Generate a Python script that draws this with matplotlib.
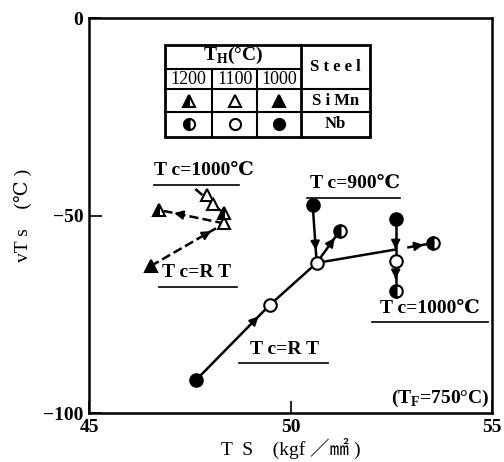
import matplotlib.pyplot as plt
from matplotlib.patches import Rectangle

plt.rcParams['font.family'] = ['Liberation Serif', 'DejaVu Serif', 'Noto Sans CJK JP']
plt.rcParams['font.weight'] = 'bold'
plt.rcParams['mathtext.fontset'] = 'custom'
plt.rcParams['mathtext.rm'] = 'Liberation Serif:bold'
plt.rcParams['mathtext.bf'] = 'Liberation Serif:bold'

# Nb steel (circles): TS, vTs, heating temperature TH
nb_x = [47.66, 49.48, 50.65, 50.55, 51.22, 52.61, 52.61, 52.61, 53.53]
nb_y = [-91.6, -72.7, -62.0, -47.3, -53.9, -50.9, -61.5, -69.1, -57.0]
nb_th = [1000, 1100, 1100, 1000, 1200, 1000, 1100, 1200, 1200]

# SiMn steel (triangles)
simn_x = [46.53, 48.36, 46.74, 47.94, 48.08, 48.36]
simn_y = [-62.8, -52.0, -48.6, -44.8, -47.1, -49.4]
simn_th = [1000, 1100, 1200, 1100, 1100, 1200]

# connections: (from, to, linestyle, arrow position)
nb_links = [(0, 1, '-', 0.85), (1, 2, '-', None), (3, 2, '-', 0.78),
            (2, 4, '-', 0.78), (5, 6, '-', 0.72), (6, 7, '-', 0.6)]
simn_links = [(0, 1, '--', 0.82), (1, 2, '--', 0.77)]

th_cols = ['1200', '1100', '1000']


def marker_style(th, m, ms=9):
    st = dict(marker=m, ms=ms, mec='k', mew=1.5, ls='none', zorder=5)
    if th == 1000:
        st.update(mfc='k')
    elif th == 1100:
        st.update(mfc='white')
    else:
        st.update(mfc='k', fillstyle='left', markerfacecoloralt='white')
    return st


def arrow_at(ax, p0, p1, t, ms=13):
    dx, dy = p1[0] - p0[0], p1[1] - p0[1]
    hx, hy = p0[0] + t * dx, p0[1] + t * dy
    ax.annotate('', xy=(hx, hy), xytext=(hx - 0.06 * dx, hy - 0.06 * dy),
                arrowprops=dict(arrowstyle='-|>', color='k', lw=1.5,
                                mutation_scale=ms, shrinkA=0, shrinkB=0),
                zorder=4)


fig = plt.figure(figsize=(5.04, 4.62), dpi=100)
ax = fig.add_axes([0.1766, 0.106, 0.7996, 0.855])
ax.set_xlim(45, 55)
ax.set_ylim(-100, 0)

for a, b, ls, t in nb_links:
    p0, p1 = (nb_x[a], nb_y[a]), (nb_x[b], nb_y[b])
    ax.plot([p0[0], p1[0]], [p0[1], p1[1]], ls=ls, color='k', lw=1.8)
    if t:
        arrow_at(ax, p0, p1, t)

# open circle (Tc=900) towards right half circle: solid then dashed
p0, p1 = (nb_x[2], nb_y[2]), (nb_x[8], nb_y[8])
f = lambda t: (p0[0] + t * (p1[0] - p0[0]), p0[1] + t * (p1[1] - p0[1]))
ax.plot([f(0)[0], f(0.68)[0]], [f(0)[1], f(0.68)[1]], color='k', lw=1.8)
ax.plot([f(0.78)[0], f(1)[0]], [f(0.78)[1], f(1)[1]], color='k', lw=1.8, ls='--')
arrow_at(ax, p0, p1, 0.92)

for a, b, ls, t in simn_links:
    p0, p1 = (simn_x[a], simn_y[a]), (simn_x[b], simn_y[b])
    ax.plot([p0[0], p1[0]], [p0[1], p1[1]], ls=ls, color='k', lw=1.8)
    if t:
        arrow_at(ax, p0, p1, t)
# Tc=1000 SiMn group
ax.plot([47.64, 48.48], [-43.3, -50.6], ls='--', color='k', lw=1.8)

for x, y, th in zip(nb_x, nb_y, nb_th):
    ax.plot(x, y, **marker_style(th, 'o'))
for x, y, th in zip(simn_x, simn_y, simn_th):
    ax.plot(x, y, **marker_style(th, '^'))

# labels with underline
labels = [('T c=1000℃', 47.86, -38.5, 46.62, 48.73, -42.3),
          ('T c=R T', 47.66, -64.3, 46.74, 48.68, -68.1),
          ('T c=900℃', 51.59, -41.8, 50.42, 52.71, -45.6),
          ('T c=1000℃', 53.46, -73.4, 52.01, 54.9, -77.0),
          ('T c=R T', 49.85, -84.0, 48.73, 50.92, -87.3)]
for s, x, y, x0, x1, yl in labels:
    ax.text(x, y, s, ha='center', va='center', fontsize=14)
    ax.plot([x0, x1], [yl, yl], color='k', lw=1.2)

ax.text(54.95, -96.2, '(T$_\\mathrm{F}$=750°C)', ha='right', va='center', fontsize=14)

# table
xe = [46.89, 48.06, 49.18, 50.27, 51.97]
ye = [-6.84, -12.9, -18.0, -23.8, -30.1]
ax.add_patch(Rectangle((xe[0], ye[4]), xe[4] - xe[0], ye[0] - ye[4],
                       fill=False, lw=2, ec='k', zorder=6))
ax.plot([xe[3], xe[3]], [ye[0], ye[4]], color='k', lw=2)
ax.plot([xe[0], xe[3]], [ye[1], ye[1]], color='k', lw=1.5)
ax.plot([xe[0], xe[4]], [ye[2], ye[2]], color='k', lw=1.5)
ax.plot([xe[0], xe[4]], [ye[3], ye[3]], color='k', lw=1.5)
for i in (1, 2):
    ax.plot([xe[i], xe[i]], [ye[1], ye[4]], color='k', lw=1.5)
ax.text((xe[0] + xe[3]) / 2, (ye[0] + ye[1]) / 2 + 0.3, 'T$_\\mathrm{H}$(°C)',
        ha='center', va='center', fontsize=14)
for i, s in enumerate(th_cols):
    ax.text((xe[i] + xe[i + 1]) / 2, (ye[1] + ye[2]) / 2, s,
            ha='center', va='center', fontsize=13, fontweight='normal')
    th = int(s)
    ax.plot((xe[i] + xe[i + 1]) / 2, (ye[2] + ye[3]) / 2, **marker_style(th, '^', 8))
    ax.plot((xe[i] + xe[i + 1]) / 2, (ye[3] + ye[4]) / 2, **marker_style(th, 'o', 8))
xm = (xe[3] + xe[4]) / 2
ax.text(xm, (ye[0] + ye[2]) / 2, 'S t e e l', ha='center', va='center', fontsize=12)
ax.text(xm, (ye[2] + ye[3]) / 2, 'S i Mn', ha='center', va='center', fontsize=12)
ax.text(xm, (ye[3] + ye[4]) / 2, 'Nb', ha='center', va='center', fontsize=12)

ax.set_xticks([45, 50, 55])
ax.set_yticks([-100, -50, 0])
ax.set_yticklabels(['−100', '−50', '0'])
ax.tick_params(direction='in', length=9, width=1.2, labelsize=14, pad=4)
for sp in ax.spines.values():
    sp.set_linewidth(1.8)
ax.set_xlabel('T  S    (kgf ／㎟ )', fontsize=14, labelpad=2)
ax.set_ylabel('vT s    (℃ )', fontsize=14, labelpad=8)

fig.savefig('out.png', dpi=100)
